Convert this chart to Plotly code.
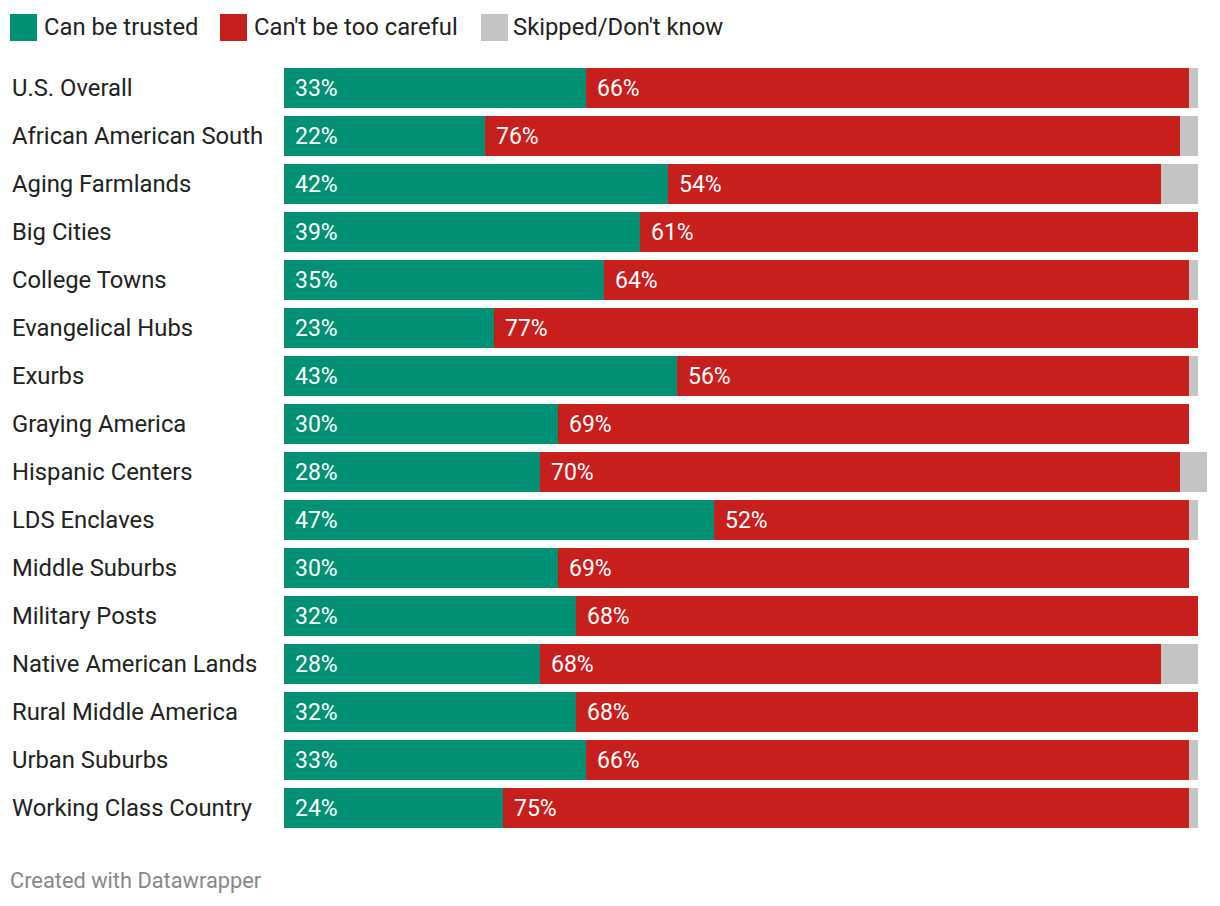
import plotly.graph_objects as go

categories = ["U.S. Overall", "African American South", "Aging Farmlands", "Big Cities",
              "College Towns", "Evangelical Hubs", "Exurbs", "Graying America",
              "Hispanic Centers", "LDS Enclaves", "Middle Suburbs", "Military Posts",
              "Native American Lands", "Rural Middle America", "Urban Suburbs",
              "Working Class Country"]
trusted = [33, 22, 42, 39, 35, 23, 43, 30, 28, 47, 30, 32, 28, 32, 33, 24]
careful = [66, 76, 54, 61, 64, 77, 56, 69, 70, 52, 69, 68, 68, 68, 66, 75]
skipped = [1, 2, 4, 0, 1, 0, 1, 0, 3, 1, 0, 0, 4, 0, 1, 1]
series_names = ["Can be trusted", "Can't be too careful", "Skipped/Don't know"]
colors = ["#009175", "#c71e1e", "#c4c4c4"]

W, H = 1220, 906
FONT = "Roboto"
x0_px, unit_px = 284, 9.14
xmax = 101.6
dom_x = [x0_px / W, (x0_px + unit_px * xmax) / W]
top_px, bot_px = 64, 832
dom_y = [1 - bot_px / H, 1 - top_px / H]

ypos = list(range(len(categories)))
fig = go.Figure()
for name, vals, col in zip(series_names, [trusted, careful, skipped], colors):
    fig.add_trace(go.Bar(y=ypos, x=vals, orientation="h", name=name,
                         marker=dict(color=col, line=dict(width=0)),
                         width=0.833, showlegend=False, hoverinfo="x+name"))

annotations = []
for i, cat in enumerate(categories):
    annotations.append(dict(x=10 / W, xref="paper", y=i, yref="y", text=cat,
                            showarrow=False, xanchor="left", yanchor="middle",
                            font=dict(family=FONT, size=23.8, color="#222222")))
    annotations.append(dict(x=0, xref="x", y=i, yref="y", text=f"{trusted[i]}%",
                            showarrow=False, xanchor="left", yanchor="middle", xshift=9,
                            font=dict(family=FONT, size=23, color="white")))
    annotations.append(dict(x=trusted[i], xref="x", y=i, yref="y", text=f"{careful[i]}%",
                            showarrow=False, xanchor="left", yanchor="middle", xshift=9,
                            font=dict(family=FONT, size=23, color="white")))

shapes = []
legend_x = [(10, 42), (220, 252), (481, 511)]
for (sx, tx), name, col in zip(legend_x, series_names, colors):
    shapes.append(dict(type="rect", xref="paper", yref="paper",
                       x0=sx / W, x1=(sx + 27) / W, y0=1 - 41 / H, y1=1 - 14 / H,
                       fillcolor=col, line=dict(width=0)))
    annotations.append(dict(x=tx / W, xref="paper", y=1 - 27 / H, yref="paper", text=name,
                            showarrow=False, xanchor="left", yanchor="middle",
                            font=dict(family=FONT, size=23.8, color="#222222")))

annotations.append(dict(x=8 / W, xref="paper", y=1 - 880 / H, yref="paper",
                        text="Created with Datawrapper", showarrow=False,
                        xanchor="left", yanchor="middle",
                        font=dict(family=FONT, size=21.8, color="#888888")))

fig.update_layout(
    barmode="stack", width=W, height=H,
    margin=dict(l=0, r=0, t=0, b=0), paper_bgcolor="white", plot_bgcolor="white",
    xaxis=dict(domain=dom_x, range=[0, xmax], visible=False, fixedrange=True),
    yaxis=dict(domain=dom_y, range=[len(categories) - 0.5, -0.5], visible=False, fixedrange=True),
    annotations=annotations, shapes=shapes, showlegend=False, bargap=0,
)
fig.write_html("out.html")
